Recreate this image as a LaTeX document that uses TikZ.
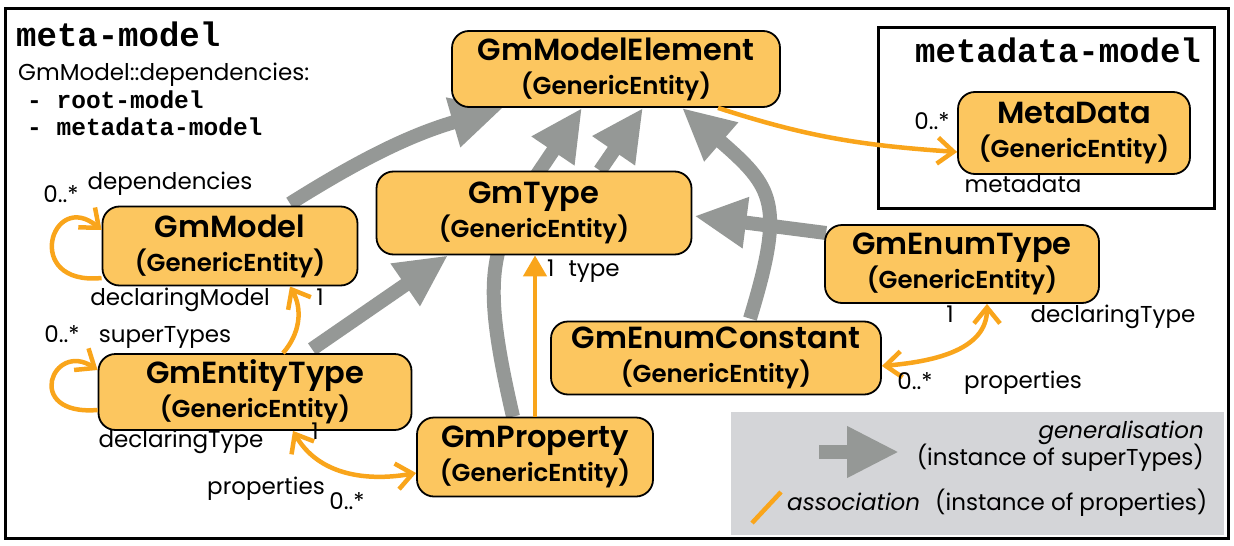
\documentclass[tikz,border=0pt]{standalone}
\usepackage{fontspec}
\setmainfont{Poppins}[BoldFont={Poppins SemiBold}]
\setmonofont{Liberation Mono}
\usetikzlibrary{arrows.meta,calc,backgrounds}
\definecolor{entityfill}{HTML}{FCC65F}
\definecolor{assocorange}{HTML}{F9A51B}
\definecolor{gengray}{HTML}{959896}
\definecolor{legendgray}{HTML}{D4D5D8}
\newcommand\entitytitle{\fontsize{30.5}{34}\selectfont\bfseries}
\newcommand\entitysub{\fontsize{24.5}{34}\selectfont}
\newcommand\lblsize{\fontsize{23}{28}\selectfont}

\begin{document}
\begin{tikzpicture}[
  x=1pt,
  y=-1pt,
  Chev/.tip={Straight Barb[length=16pt,width=26pt]},
  entity/.style={draw=black, line width=1.8pt, fill=entityfill,
    rounded corners=17pt, align=center, inner sep=0pt, font=\entitytitle},
  gen/.style={draw=gengray, line width=14pt, -{Triangle[length=52pt,width=48pt]}},
  assoc/.style={draw=assocorange, line width=4.5pt},
  frame/.style={draw=black, line width=3pt},
  lbl/.style={inner sep=0pt, font=\lblsize},
  modeltitle/.style={inner sep=0pt, anchor=mid west, font=\ttfamily\bfseries\fontsize{34}{40}\selectfont},
  deplist/.style={inner sep=0pt, anchor=mid west, font=\ttfamily\bfseries\fontsize{24.5}{30}\selectfont}
]
  \useasboundingbox (0,0) rectangle (1234,546);

  % Frames and legend background.
  \draw[frame] (5,8) rectangle (1228,538);
  \draw[frame] (878,27) rectangle (1214,208);
  \fill[legendgray] (731,412) rectangle (1224,535);

  % Model headings.
  \node[modeltitle] (metatitle) at (16,44) {meta-model};
  \node[lbl,anchor=mid west] (deptitle) at (18,78) {GmModel::dependencies:};
  \node[deplist] (deproot) at (27,106) {- root-model};
  \node[deplist] (depmeta) at (27,133) {- metadata-model};
  \node[modeltitle] (metadatatitle) at (915,60) {metadata-model};

  % Entity types.
  \node[entity,minimum width=328pt,minimum height=76pt] (elem) at (616,69)
    {GmModelElement\\\entitysub(GenericEntity)};
  \node[entity,minimum width=232pt,minimum height=82pt] (metadata) at (1074,133)
    {MetaData\\\entitysub(GenericEntity)};
  \node[entity,minimum width=315pt,minimum height=83pt] (gmtype) at (534,213)
    {GmType\\\entitysub(GenericEntity)};
  \node[entity,minimum width=255pt,minimum height=79pt] (gmmodel) at (230,246)
    {GmModel\\\entitysub(GenericEntity)};
  \node[entity,minimum width=313pt,minimum height=76pt] (entitytype) at (255,392)
    {GmEntityType\\\entitysub(GenericEntity)};
  \node[entity,minimum width=236pt,minimum height=79pt] (property) at (535,457)
    {GmProperty\\\entitysub(GenericEntity)};
  \node[entity,minimum width=330pt,minimum height=73pt] (enumconst) at (716,358)
    {GmEnumConstant\\\entitysub(GenericEntity)};
  \node[entity,minimum width=274pt,minimum height=78pt] (enumtype) at (962,264)
    {GmEnumType\\\entitysub(GenericEntity)};

  % Generalisations, behind the entities.
  \begin{scope}[on background layer]
    \draw[gen] ([xshift=60pt,yshift=2pt]gmmodel.north)
      to[bend left=8] ([xshift=-113pt]elem.south);
    \draw[gen] ([xshift=57pt,yshift=4pt]entitytype.north)
      -- ([xshift=-86pt]gmtype.south);
    \draw[gen] ([xshift=-22pt]property.north)
      to[out=103,in=236,looseness=1.3] ([xshift=-34pt]elem.south);
    \draw[gen] ([xshift=66pt]gmtype.north) -- ([xshift=27pt]elem.south);
    \draw[gen] ([xshift=34pt,yshift=2pt]enumconst.north)
      to[out=73,in=-41,looseness=1.4] ([xshift=66pt]elem.south);
    \draw[gen] ([xshift=2pt,yshift=31pt]enumtype.west)
      -- ([xshift=2pt,yshift=-3pt]gmtype.east);
  \end{scope}

  % Associations.
  \draw[assoc,-{Chev}] ([yshift=-32pt]gmmodel.west)
    .. controls +(-80,8) and +(-50,-42) .. ([yshift=16pt]gmmodel.west);
  \draw[assoc,-{Chev}] ([yshift=-18pt]entitytype.west)
    .. controls +(-75,6) and +(-45,-30) .. ([yshift=22pt]entitytype.west);
  \draw[assoc,-{Chev}] ([xshift=28pt]entitytype.north)
    to[bend right=35] ([xshift=60pt]gmmodel.south);
  \draw[assoc,{Chev}-{Chev}] ([xshift=38pt]entitytype.south)
    to[out=-60,in=190] ([yshift=-16pt]property.west);
  \draw[assoc,-{Triangle[length=21pt,width=23pt]}] (property.north)
    -- (property.north |- gmtype.south);
  \draw[assoc,{Chev}-{Chev}] ([yshift=-8pt]enumconst.east)
    to[out=5,in=-90] ([xshift=25pt]enumtype.south);
  \draw[assoc,-{Chev}] ([xshift=102pt]elem.south)
    to[out=-18,in=176] ([yshift=-19pt]metadata.west);

  % Role names and multiplicities.
  \node[lbl,anchor=mid] (depmult) at (61,200) {0..*};
  \node[lbl,anchor=mid] (deprole) at (170,187) {dependencies};
  \node[lbl,anchor=mid] (declmodel) at (180,303) {declaringModel};
  \node[lbl,anchor=mid] (declmodelmult) at (320,303) {1};
  \node[lbl,anchor=mid] (supermult) at (62,340) {0..*};
  \node[lbl,anchor=mid] (superrole) at (165,340) {superTypes};
  \node[lbl,anchor=mid] (decltype) at (181,445) {declaringType};
  \node[lbl,anchor=mid] (decltypemult) at (315,437) {1};
  \node[lbl,anchor=mid] (proprole) at (266,492) {properties};
  \node[lbl,anchor=mid] (propmult) at (347,507) {0..*};
  \node[lbl,anchor=mid west] (typerole) at (547,274) {1\hspace{14pt}type};
  \node[lbl,anchor=mid] (enumdeclmult) at (950,320) {1};
  \node[lbl,anchor=mid] (enumdecl) at (1113,320) {declaringType};
  \node[lbl,anchor=mid] (enumpropmult) at (915,387) {0..*};
  \node[lbl,anchor=mid] (enumprop) at (1023,386) {properties};
  \node[lbl,anchor=mid] (metamult) at (932,127) {0..*};
  \node[lbl,anchor=mid] (metarole) at (1023,190) {metadata};

  % Legend.
  \coordinate (legtail) at (819,452);
  \coordinate (leghead) at (899,452);
  \draw[gen] (legtail) -- (leghead);
  \coordinate (slashA) at (752,523);
  \coordinate (slashB) at (781,492);
  \draw[assoc] (slashA) -- (slashB);
  \node[lbl,anchor=mid east] (genname) at (1204,436) {\itshape generalisation};
  \node[lbl,anchor=mid east] (genexpl) at (1204,463) {(instance of superTypes)};
  \node[lbl,anchor=mid west] (assocname) at (787,508) {\itshape association};
  \node[lbl,anchor=mid west] (assocexpl) at (935,508) {(instance of properties)};
\end{tikzpicture}
\end{document}
